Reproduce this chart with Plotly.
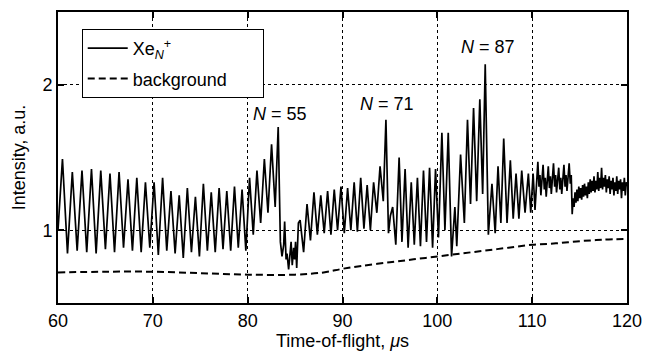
import plotly.graph_objects as go

# Xe_N^+ time-of-flight signal
tof_us = [
    60.00, 60.47, 61.00, 61.51, 62.02, 62.53, 63.03, 63.53, 64.02, 64.51, 65.00, 65.48, 65.96,
    66.44, 66.91, 67.38, 67.85, 68.31, 68.77, 69.22, 69.68, 70.13, 70.58, 71.03, 71.47, 71.91,
    72.35, 72.78, 73.21, 73.64, 74.07, 74.49, 74.91, 75.33, 75.75, 76.16, 76.58, 76.99, 77.40,
    77.80, 78.21, 78.61, 79.01, 79.41, 79.81, 80.20, 80.59, 80.98, 81.37, 81.76, 82.14, 82.52,
    82.90, 83.22, 83.45, 83.62, 83.80, 83.90, 84.05, 84.15, 84.32, 84.45, 84.58, 84.70, 84.85,
    84.95, 85.05, 85.17, 85.35, 85.53, 85.90, 86.26, 86.62, 86.99, 87.35, 87.71, 88.07, 88.43,
    88.78, 89.13, 89.48, 89.84, 90.19, 90.54, 90.88, 91.23, 91.57, 91.92, 92.26, 92.60, 92.94,
    93.28, 93.62, 93.96, 94.30, 94.58, 94.85, 95.05, 95.29, 95.62, 95.97, 96.27, 96.60, 96.92,
    97.25, 97.57, 97.90, 98.22, 98.54, 98.86, 99.18, 99.50, 99.81, 100.12, 100.48, 100.80,
    101.15, 101.50, 101.85, 102.05, 102.45, 102.85, 103.18, 103.50, 103.82, 104.15, 104.48,
    104.78, 105.05, 105.38, 105.76, 106.10, 106.40, 106.70, 107.00, 107.35, 107.70, 108.00,
    108.30, 108.60, 108.90, 109.25, 109.60, 109.85, 110.10,
    110.30, 110.45, 110.60, 110.72, 110.82, 110.92, 111.05, 111.15, 111.28, 111.38, 111.48,
    111.60, 111.70, 111.82, 111.92, 112.02, 112.14, 112.25, 112.37, 112.47, 112.57, 112.68,
    112.80, 112.92, 113.02, 113.12, 113.24, 113.35, 113.47, 113.57, 113.67, 113.78, 113.90,
    114.02, 114.12, 114.22, 114.32, 114.42, 114.52, 114.62, 114.72, 114.82, 114.92, 115.02,
    115.12, 115.22, 115.32, 115.42, 115.52, 115.62, 115.72, 115.82, 115.92, 116.02, 116.12,
    116.22, 116.32, 116.42, 116.52, 116.62, 116.72, 116.82, 116.92, 117.02, 117.12, 117.22,
    117.32, 117.42, 117.52, 117.62, 117.72, 117.82, 117.92, 118.02, 118.12, 118.22, 118.32,
    118.42, 118.52, 118.62, 118.72, 118.82, 118.92, 119.02, 119.12, 119.22, 119.32, 119.42,
    119.52, 119.62, 119.72, 119.82, 119.92, 120.00,
]
intensity = [
    1.00, 1.49, 0.84, 1.40, 0.86, 1.41, 0.85, 1.42, 0.84, 1.41, 0.87, 1.39, 0.85,
    1.40, 0.88, 1.35, 0.86, 1.36, 0.85, 1.33, 0.88, 1.33, 0.83, 1.36, 0.86, 1.27,
    0.84, 1.24, 0.81, 1.29, 0.85, 1.23, 0.82, 1.32, 0.86, 1.26, 0.85, 1.29, 0.87,
    1.27, 0.86, 1.30, 0.88, 1.28, 0.86, 1.36, 0.97, 1.41, 1.05, 1.49, 1.12, 1.59,
    1.16, 1.71, 0.92, 0.82, 0.90, 1.06, 0.80, 0.84, 0.73, 0.86, 0.92, 0.76, 0.88,
    0.80, 0.92, 0.74, 1.05, 1.07, 0.85, 1.18, 0.93, 1.26, 0.97, 1.24, 0.98, 1.27,
    0.97, 1.28, 1.00, 1.30, 0.98, 1.29, 1.00, 1.33, 0.99, 1.36, 1.01, 1.31, 1.00,
    1.33, 1.12, 1.44, 1.20, 1.76, 0.98, 1.10, 1.16, 0.90, 1.50, 0.92, 1.42, 0.88,
    1.33, 0.90, 1.36, 0.89, 1.41, 0.92, 1.43, 0.88, 1.42, 0.95, 1.67, 1.00,
    1.67, 0.82, 1.16, 0.89, 1.52, 1.05, 1.76, 1.18, 1.84, 1.20, 1.90,
    1.25, 2.14, 0.97, 1.32, 0.98, 1.44, 1.05, 1.63, 1.05, 1.48, 1.08,
    1.39, 1.08, 1.41, 1.12, 1.39, 1.12, 1.39,
    1.14, 1.30, 1.47, 1.30, 1.38, 1.24, 1.35, 1.45, 1.28, 1.36, 1.23,
    1.40, 1.44, 1.29, 1.37, 1.25, 1.39, 1.46, 1.30, 1.38, 1.26, 1.36,
    1.43, 1.28, 1.36, 1.25, 1.40, 1.45, 1.30, 1.38, 1.27, 1.40, 1.46,
    1.32, 1.38, 1.11, 1.22, 1.16, 1.26, 1.19, 1.28, 1.20, 1.30, 1.22,
    1.29, 1.21, 1.31, 1.23, 1.32, 1.24, 1.30, 1.22, 1.33, 1.25, 1.35,
    1.26, 1.34, 1.27, 1.37, 1.26, 1.34, 1.28, 1.40, 1.27, 1.36, 1.29,
    1.43, 1.28, 1.36, 1.30, 1.38, 1.26, 1.35, 1.29, 1.37, 1.25, 1.34,
    1.28, 1.36, 1.24, 1.33, 1.27, 1.37, 1.25, 1.34, 1.28, 1.35, 1.22,
    1.33, 1.27, 1.36, 1.24, 1.33, 1.30,
]

# background
bg_tof = [60, 65, 70, 75, 80, 85, 88, 90, 92, 95, 97.5, 100, 102.5, 105, 107.5, 110, 112.5, 115, 117.5, 120]
bg_int = [0.71, 0.715, 0.715, 0.705, 0.695, 0.695, 0.71, 0.735, 0.755, 0.78, 0.80, 0.82, 0.84, 0.86, 0.88, 0.90, 0.91, 0.925, 0.935, 0.94]

# cluster-size labels
lab_x = [83.44, 94.69, 105.31]
lab_y = [1.80, 1.865, 2.26]
lab_n = [55, 71, 87]

font = "Liberation Sans, Arial, Helvetica, sans-serif"
FS = 18

fig = go.Figure()
fig.add_trace(go.Scatter(x=tof_us, y=intensity, mode="lines",
                         line=dict(color="black", width=1.7),
                         legendgroup="a",
                         name="Xe<sub><i>N</i></sub><sup>+</sup>"))
fig.add_trace(go.Scatter(x=bg_tof, y=bg_int, mode="lines", line_shape="spline",
                         line=dict(color="black", width=2, dash="7px,4px"),
                         legendgroup="b",
                         name="background" + "&nbsp;" * 6))

for x, y, n in zip(lab_x, lab_y, lab_n):
    fig.add_annotation(x=x, y=y, text=f"<i>N</i> = {n}", showarrow=False,
                       font=dict(size=FS, color="black", family=font))

axis_common = dict(showline=True, linecolor="black", linewidth=2, mirror="ticks",
                   ticks="inside", ticklen=6, tickwidth=2, tickcolor="black",
                   showgrid=True, gridcolor="black", griddash="dot", gridwidth=1,
                   zeroline=False, tickfont=dict(size=FS, color="black", family=font))

fig.update_xaxes(range=[60, 120], tickvals=[60, 70, 80, 90, 100, 110, 120],
                 title=dict(text="Time-of-flight, <i>μ</i>s", standoff=2,
                            font=dict(size=FS, color="black", family=font)),
                 **axis_common)
fig.update_yaxes(range=[0.5, 2.5], tickvals=[1, 2],
                 title=dict(text="Intensity, a.u.", standoff=12,
                            font=dict(size=FS, color="black", family=font)),
                 **axis_common)

fig.update_layout(
    width=652, height=355,
    margin=dict(l=58, r=18, t=10, b=52),
    paper_bgcolor="white", plot_bgcolor="white",
    font=dict(family=font, size=FS, color="black"),
    showlegend=True,
    legend=dict(x=0.0417, y=0.942, xanchor="left", yanchor="top",
                bgcolor="white", bordercolor="black", borderwidth=1,
                font=dict(size=FS, color="black", family=font),
                itemwidth=40, tracegroupgap=4),
)

fig.write_html("out.html", config={"displayModeBar": False},
               post_script="document.body.style.margin='0';document.body.style.padding='0';")
